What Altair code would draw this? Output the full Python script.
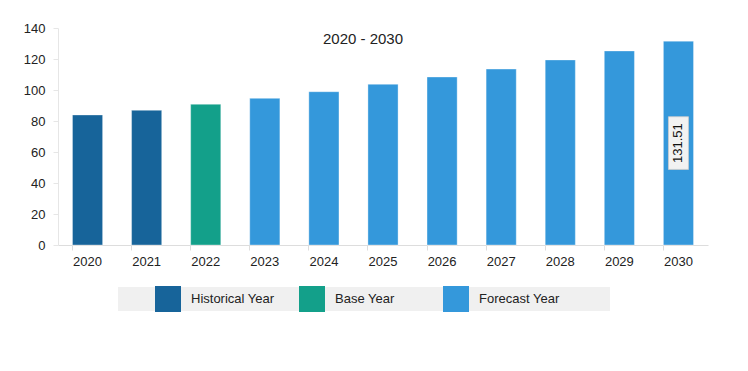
import altair as alt
import pandas as pd

years = ["2020", "2021", "2022", "2023", "2024", "2025", "2026", "2027", "2028", "2029", "2030"]
values = [83.9, 86.9, 90.8, 94.6, 98.9, 103.7, 108.4, 113.5, 119.4, 125.2, 131.51]
kinds = ["Historical Year", "Historical Year", "Base Year"] + ["Forecast Year"] * 8
legend_order = ["Historical Year", "Base Year", "Forecast Year"]
legend_colors = ["#17649a", "#13a08a", "#3498db"]
y_ticks = [0, 20, 40, 60, 80, 100, 120, 140]
label_year = "2030"
label_text = "131.51"
title_text = "2020 - 2030"

df = pd.DataFrame({"year": years, "value": values, "kind": kinds})

FONT = "Liberation Sans"

x_axis = alt.Axis(labelAngle=0, bandPosition=0, domainColor="#dddddd",
                  tickColor="#dddddd", tickSize=5, labelPadding=5,
                  labelFontSize=13, labelColor="#222222", labelFont=FONT)
x_scale = alt.Scale(paddingInner=0.49, paddingOuter=0.245)
y_axis = alt.Axis(values=y_ticks, grid=False, labelOverlap=False,
                  domainColor="#e6e6e6", tickColor="#e6e6e6", tickSize=5,
                  labelPadding=8, labelFontSize=13, labelColor="#222222",
                  labelFont=FONT)
y_scale = alt.Scale(domain=[0, 140])

bars = alt.Chart(df).mark_bar(stroke="#ffffff", strokeOpacity=0.35, strokeWidth=1).encode(
    x=alt.X("year:N", title=None, sort=years, scale=x_scale, axis=x_axis),
    y=alt.Y("value:Q", title=None, scale=y_scale, axis=y_axis),
    color=alt.Color("kind:N", sort=legend_order,
                    scale=alt.Scale(domain=legend_order, range=legend_colors),
                    legend=alt.Legend(title=None, orient="none", direction="horizontal",
                                      legendX=97, legendY=258, symbolType="square",
                                      symbolSize=676, symbolStrokeWidth=0,
                                      labelOffset=10, columnPadding=24, gridAlign="all",
                                      labelFontSize=13, labelFont=FONT,
                                      labelColor="#222222")),
)

bg = alt.Chart(df).mark_rect(color="#f0f0f0").encode(
    x=alt.value(60), x2=alt.value(552), y=alt.value(259), y2=alt.value(283)
).transform_filter(alt.datum.year == label_year)

lab = df[df.year == label_year].copy()
box = alt.Chart(lab).mark_bar(width=20, fill="#f2f2f2", stroke="#cccccc", strokeWidth=0.8).encode(
    x=alt.X("year:N", title=None, sort=years, scale=x_scale, axis=x_axis),
    y=alt.Y("lo:Q", title=None, scale=y_scale, axis=y_axis),
    y2="hi:Q",
).transform_calculate(lo="datum.value/2 - 17", hi="datum.value/2 + 17")

txt = alt.Chart(lab).mark_text(angle=270, fontSize=13, font=FONT, color="#111111").encode(
    x=alt.X("year:N", title=None, sort=years, scale=x_scale, axis=x_axis),
    y=alt.Y("mid:Q", title=None, scale=y_scale, axis=y_axis),
    text=alt.value(label_text),
).transform_calculate(mid="datum.value/2")

title = alt.Chart(lab).mark_text(fontSize=15, font=FONT, color="#222222").encode(
    x=alt.value(305), y=alt.value(11), text=alt.value(title_text)
)

chart = alt.layer(bg, bars, box, txt, title).properties(
    width=650, height=217,
    background="white",
    autosize=alt.AutoSizeParams(type="none"),
    padding={"left": 50, "top": 20, "right": 30, "bottom": 100},
).configure_view(strokeWidth=0, stroke="transparent")

chart.save("out.html", embed_options={"renderer": "svg", "actions": False})
